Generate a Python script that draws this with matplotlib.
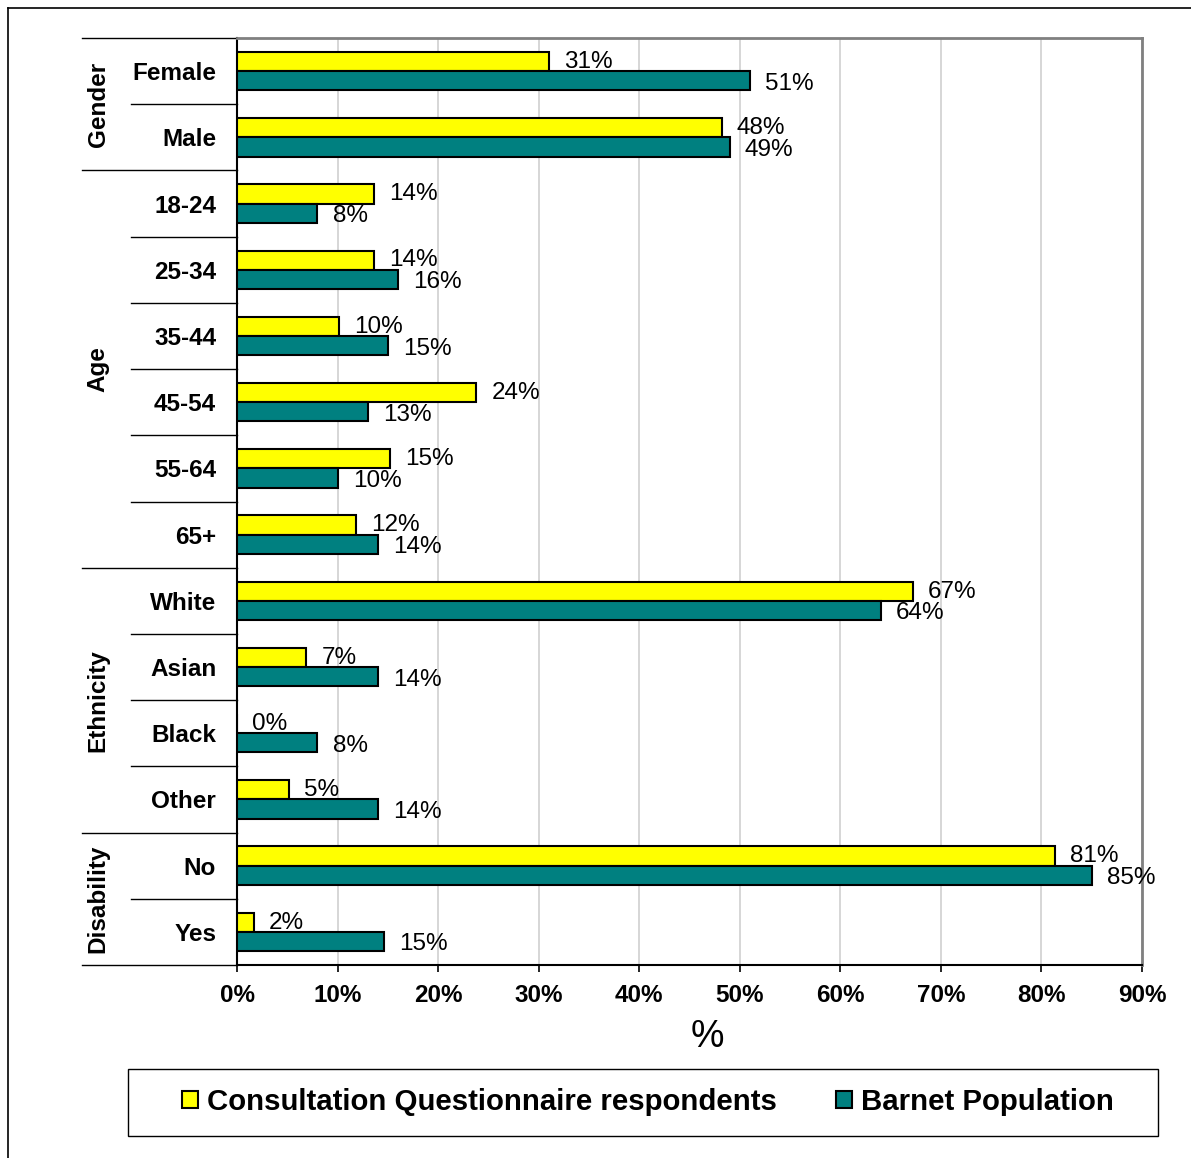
import matplotlib.pyplot as plt
import numpy as np
from matplotlib.lines import Line2D
from matplotlib.patches import Patch, Rectangle
from matplotlib.transforms import blended_transform_factory

plt.rcParams['font.family'] = ['Liberation Sans', 'DejaVu Sans']

# data
categories = ["Female", "Male", "18-24", "25-34", "35-44", "45-54", "55-64", "65+",
              "White", "Asian", "Black", "Other", "No", "Yes"]
groups = ["Gender", "Age", "Ethnicity", "Disability"]
group_sizes = [2, 6, 4, 2]
respondents = [31.0, 48.2, 13.6, 13.6, 10.1, 23.8, 15.2, 11.8, 67.2, 6.9, 0.0, 5.2, 81.3, 1.7]
barnet = [51.0, 49.0, 8.0, 16.0, 15.0, 13.0, 10.0, 14.0, 64.0, 14.0, 8.0, 14.0, 85.0, 14.6]
series_names = ["Consultation Questionnaire respondents", "Barnet Population"]
xticks = np.arange(0, 91, 10)

yellow = '#FFFF00'
teal = '#008080'

fig = plt.figure(figsize=(11.91, 11.58), dpi=100)
ax = fig.add_axes([237/1191, 193/1158, 905/1191, 927/1158])

y = np.arange(len(categories))
h = 0.29
ax.barh(y - h/2, respondents, height=h, color=yellow, edgecolor='black', linewidth=1.5, zorder=3)
ax.barh(y + h/2, barnet, height=h, color=teal, edgecolor='black', linewidth=1.5, zorder=3)

# value labels
for i in range(len(categories)):
    ax.text(respondents[i] + 1.5, i - 0.14, f"{respondents[i]:.0f}%", fontsize=17.5,
            ha='left', va='center', zorder=4)
    ax.text(barnet[i] + 1.5, i + 0.19, f"{barnet[i]:.0f}%", fontsize=17.5,
            ha='left', va='center', zorder=4)

ax.set_xlim(0, 90)
ax.set_ylim(len(categories) - 0.5, -0.5)
ax.set_xticks(xticks)
ax.set_xticklabels([f"{t}%" for t in xticks], fontsize=17.5, fontweight='bold')
ax.tick_params(axis='x', length=5, width=1.2, direction='out', pad=9)
ax.set_yticks(y)
ax.set_yticklabels(categories, fontsize=17.5, fontweight='bold')
ax.tick_params(axis='y', length=0, pad=15)

ax.grid(axis='x', color='#d0d0d0', linewidth=1.2, zorder=0)
ax.set_axisbelow(True)
for s in ['top', 'right']:
    ax.spines[s].set_color('#808080')
    ax.spines[s].set_linewidth(2)
for s in ['left', 'bottom']:
    ax.spines[s].set_color('black')
    ax.spines[s].set_linewidth(1.5)

# multi-level category axis lines and group labels
trans = blended_transform_factory(ax.transAxes, ax.transData)
x_group = (82 - 237) / 905
x_cat = (131 - 237) / 905
x_glabel = (98 - 237) / 905
start = 0
bounds = [-0.5]
for g, n in zip(groups, group_sizes):
    ax.text(x_glabel, start + (n - 1) / 2, g, rotation=90, fontsize=17.5, fontweight='bold',
            ha='center', va='center', transform=trans)
    for k in range(1, n):
        yb = start + k - 0.5
        ax.add_line(Line2D([x_cat, 0], [yb, yb], color='black', lw=1, transform=trans, clip_on=False))
    start += n
    bounds.append(start - 0.5)
for yb in bounds:
    ax.add_line(Line2D([x_group, 0], [yb, yb], color='black', lw=1, transform=trans, clip_on=False))

fig.text(707/1191, (1158 - 1037)/1158, "%", fontsize=27, ha='center', va='center')

# legend with its own frame
fig.add_artist(Rectangle((128/1191, (1158 - 1136)/1158), 1030/1191, 67/1158,
                         transform=fig.transFigure, facecolor='white', edgecolor='black', lw=1.0))
handles = [Patch(facecolor=yellow, edgecolor='black', linewidth=1.5),
           Patch(facecolor=teal, edgecolor='black', linewidth=1.5)]
leg = fig.legend(handles, series_names, loc='center', bbox_to_anchor=(648/1191, (1158 - 1102)/1158),
                 ncol=2, frameon=False, prop={'size': 21.2, 'weight': 'bold'},
                 handlelength=0.55, handleheight=0.55, handletextpad=0.3, columnspacing=2.0)

# outer chart border
fig.add_artist(Line2D([8/1191, 8/1191], [0, 1 - 8/1158], color='black', lw=1.2))
fig.add_artist(Line2D([8/1191, 1], [1 - 8/1158, 1 - 8/1158], color='black', lw=1.2))

fig.savefig('out.png', dpi=100)
